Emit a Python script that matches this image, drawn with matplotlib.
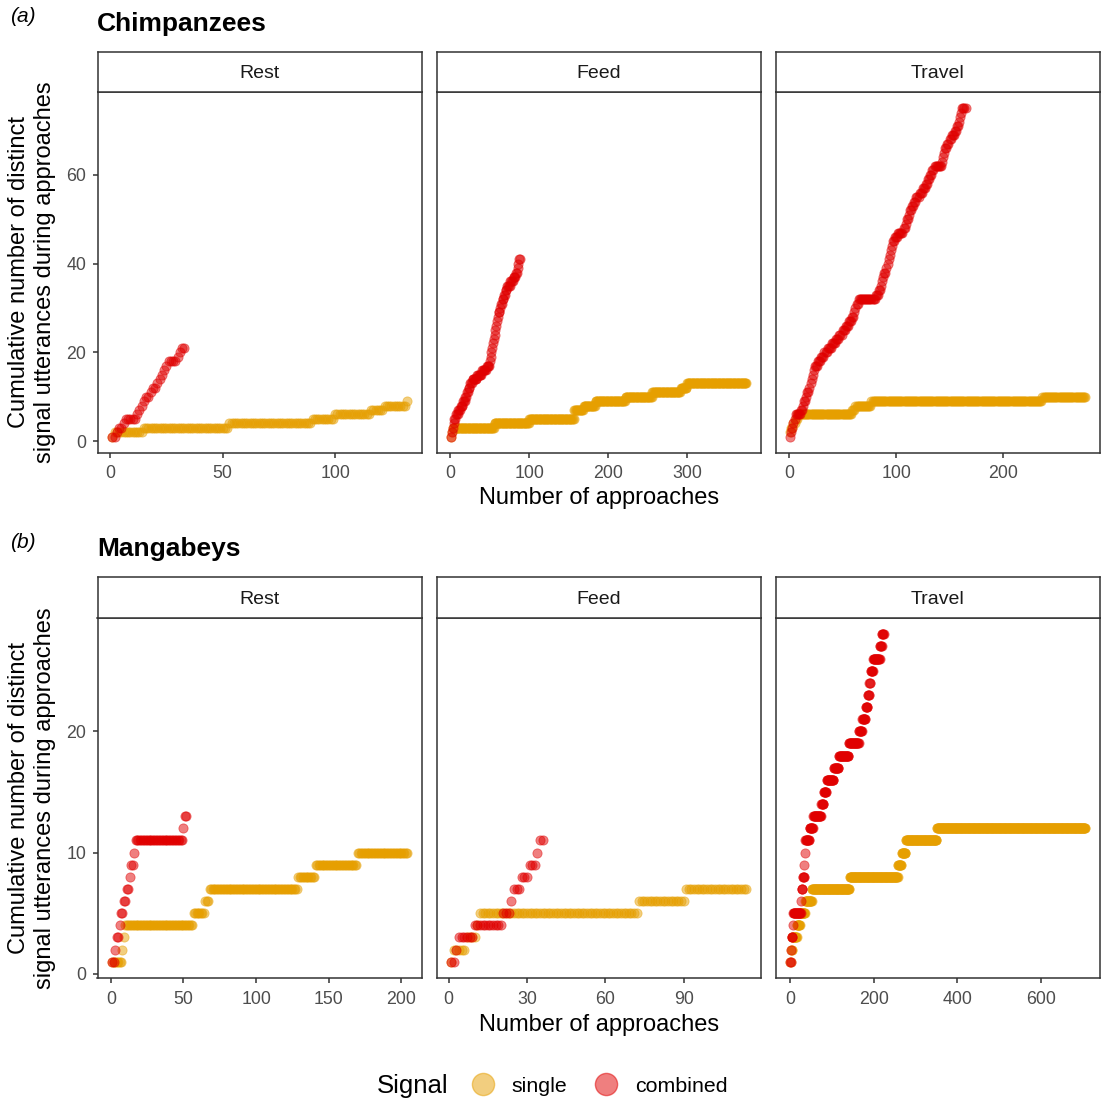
import numpy as np
import matplotlib.pyplot as plt
from matplotlib.lines import Line2D

plt.rcParams["font.family"] = ["Liberation Sans", "DejaVu Sans"]

# -----------------------------------------
# Data (cumulative step series, run-length coded:
# level reached, number of consecutive approaches at that level)
# -----------------------------------------

contexts = ["Rest", "Feed", "Travel"]
species = ["Chimpanzees", "Mangabeys"]
panel_tags = ["(a)", "(b)"]
signal_names = ["single", "combined"]

chimp_rest_single_levels = [1, 2, 3, 4, 5, 6, 7, 8, 9]
chimp_rest_single_runs = [1, 13, 38, 37, 10, 16, 6, 10, 1]
chimp_rest_combined_levels = list(range(1, 22))
chimp_rest_combined_runs = [2, 1, 2, 1, 5, 1, 1, 1, 1, 2, 1, 2, 1, 1, 1, 1, 1, 4, 1, 1, 2]

chimp_feed_single_levels = [1, 2, 3, 4, 5, 7, 8, 9, 10, 11, 12, 13]
chimp_feed_single_runs = [1, 1, 53, 44, 57, 12, 15, 38, 34, 36, 8, 76]
chimp_feed_combined_levels = list(range(1, 42))
chimp_feed_combined_runs = [1, 1, 1, 1, 2, 3, 3, 3, 3, 2, 2, 2, 3, 6, 6, 6, 4,
                            1, 1, 1, 1, 1, 1, 1, 1, 1, 1, 1, 2, 1, 2, 2, 2, 2,
                            4, 4, 3, 2, 1, 1, 2]

chimp_travel_single_levels = [2, 3, 4, 5, 6, 7, 8, 9, 10]
chimp_travel_single_runs = [1, 2, 2, 2, 51, 3, 15, 160, 41]
chimp_travel_combined_levels = list(range(1, 76))
chimp_travel_combined_runs = [1, 1, 1, 1, 1, 5, 2, 1, 2, 1, 2, 1, 1, 1, 1, 1,
                              3, 3, 3, 3, 4, 4, 3, 3, 3, 3, 3, 2, 1, 1, 2, 16,
                              3, 2, 1, 1, 1, 2, 1, 1, 1, 1, 1, 1, 2, 3, 5, 2,
                              1, 2, 1, 2, 2, 2, 3, 3, 3, 2, 2, 2, 2, 7, 1, 1,
                              1, 2, 2, 2, 3, 2, 2, 1, 1, 1, 4]

mang_rest_single_levels = [1, 2, 3, 4, 5, 6, 7, 8, 9, 10]
mang_rest_single_runs = [7, 1, 1, 47, 8, 3, 61, 12, 29, 35]
mang_rest_combined_levels = list(range(1, 14))
mang_rest_combined_runs = [2, 1, 2, 1, 2, 2, 2, 1, 2, 1, 33, 1, 2]

mang_feed_single_levels = [1, 2, 3, 4, 5, 6, 7]
mang_feed_single_runs = [1, 5, 4, 1, 61, 18, 24]
mang_feed_combined_levels = list(range(1, 12))
mang_feed_combined_runs = [2, 1, 6, 11, 3, 1, 3, 3, 3, 1, 2]

mang_travel_single_levels = [1, 2, 3, 4, 5, 6, 7, 8, 9, 10, 11, 12]
mang_travel_single_runs = [2, 3, 11, 8, 12, 16, 90, 115, 9, 10, 74, 355]
mang_travel_combined_levels = list(range(1, 29))
mang_travel_combined_runs = [2, 1, 3, 1, 19, 1, 3, 4, 1, 1, 10, 9, 19, 6, 7,
                             17, 12, 24, 24, 8, 8, 5, 4, 3, 6, 16, 5, 5]

chimp_xticks = [[0, 50, 100], [0, 100, 200, 300], [0, 100, 200]]
mang_xticks = [[0, 50, 100, 150, 200], [0, 30, 60, 90], [0, 200, 400, 600]]
chimp_yticks = [0, 20, 40, 60]
mang_yticks = [0, 10, 20]

series = {
    "Chimpanzees": [
        ((chimp_rest_single_levels, chimp_rest_single_runs),
         (chimp_rest_combined_levels, chimp_rest_combined_runs)),
        ((chimp_feed_single_levels, chimp_feed_single_runs),
         (chimp_feed_combined_levels, chimp_feed_combined_runs)),
        ((chimp_travel_single_levels, chimp_travel_single_runs),
         (chimp_travel_combined_levels, chimp_travel_combined_runs)),
    ],
    "Mangabeys": [
        ((mang_rest_single_levels, mang_rest_single_runs),
         (mang_rest_combined_levels, mang_rest_combined_runs)),
        ((mang_feed_single_levels, mang_feed_single_runs),
         (mang_feed_combined_levels, mang_feed_combined_runs)),
        ((mang_travel_single_levels, mang_travel_single_runs),
         (mang_travel_combined_levels, mang_travel_combined_runs)),
    ],
}
xticks = {"Chimpanzees": chimp_xticks, "Mangabeys": mang_xticks}
yticks = {"Chimpanzees": chimp_yticks, "Mangabeys": mang_yticks}

colors = {"single": "#E69F00", "combined": "#E00000"}

# -----------------------------------------
# Layout (pixels)
# -----------------------------------------

W, H = 1101, 1099
col_left = [97.5, 436.5, 775.5]
col_width = 324.5
rows = {
    "Chimpanzees": dict(strip_top=52, panel_top=92, panel_bottom=453,
                        tag_y=17, title_y=24, xlabel_y=498),
    "Mangabeys": dict(strip_top=577, panel_top=618, panel_bottom=978,
                      tag_y=543, title_y=549, xlabel_y=1025),
}

frame_color = "#333333"
tick_color = "#4D4D4D"


def expand(levels, runs):
    y = np.repeat(levels, runs)
    x = np.arange(1, len(y) + 1)
    return x, y


def expanded_lim(lo, hi):
    pad = (hi - lo) * 0.05
    return lo - pad, hi + pad


def fig_box(left, top, width, height):
    return [left / W, 1 - (top + height) / H, width / W, height / H]


fig = plt.figure(figsize=(W / 100, H / 100), dpi=100)

for tag, sp in zip(panel_tags, species):

    row = rows[sp]
    data = [[expand(*s) for s in panel] for panel in series[sp]]

    ymin = min(y.min() for panel in data for _, y in panel)
    ymax = max(y.max() for panel in data for _, y in panel)
    ylim = expanded_lim(ymin, ymax)

    for i, ctx in enumerate(contexts):

        ax = fig.add_axes(fig_box(col_left[i], row["panel_top"], col_width,
                                  row["panel_bottom"] - row["panel_top"]))

        for name, (x, y) in zip(signal_names, data[i]):
            ax.scatter(x, y, s=44, color=colors[name], alpha=0.5,
                       linewidths=0.6, edgecolors=colors[name], zorder=3)

        xmin = min(x.min() for x, _ in data[i])
        xmax = max(x.max() for x, _ in data[i])
        ax.set_xlim(*expanded_lim(xmin, xmax))
        ax.set_ylim(*ylim)
        ax.set_xticks(xticks[sp][i])
        ax.set_yticks(yticks[sp])

        ax.tick_params(direction="out", length=3.5, width=1.1,
                       color=frame_color, labelsize=12.8,
                       labelcolor=tick_color)
        ax.tick_params(axis="x", pad=5.5)
        ax.tick_params(axis="y", pad=4.5)
        if i > 0:
            ax.set_yticklabels([])
            ax.tick_params(axis="y", length=0)

        for spine in ax.spines.values():
            spine.set_color(frame_color)
            spine.set_linewidth(1.1)

        # facet strip
        sax = fig.add_axes(fig_box(col_left[i], row["strip_top"], col_width,
                                   row["panel_top"] - row["strip_top"]))
        sax.set_xticks([])
        sax.set_yticks([])
        for spine in sax.spines.values():
            spine.set_color(frame_color)
            spine.set_linewidth(1.1)
        sax.text(0.5, 0.46, ctx, ha="center", va="center", fontsize=14,
                 color="#1A1A1A", transform=sax.transAxes)

    fig.text(10 / W, 1 - row["tag_y"] / H, tag, fontsize=15,
             style="italic", ha="left", va="center")
    fig.text(97 / W, 1 - row["title_y"] / H, sp, fontsize=19,
             fontweight="bold", ha="left", va="center")

    mid = (row["panel_top"] + row["panel_bottom"]) / 2
    fig.text(32 / W, 1 - mid / H,
             "Cumulative number of distinct\nsignal utterances during approaches",
             rotation=90, ha="center", va="center", fontsize=17)
    fig.text(599 / W, 1 - row["xlabel_y"] / H, "Number of approaches",
             ha="center", va="center", fontsize=17)

# -----------------------------------------
# Legend
# -----------------------------------------

handles = [
    Line2D([], [], marker="o", linestyle="", markersize=16,
           markerfacecolor=colors[name], markeredgecolor=colors[name],
           markeredgewidth=1.0, alpha=0.5)
    for name in signal_names
]

fig.text(377 / W, 1 - 1086 / H, "Signal", fontsize=18.5,
         ha="left", va="center")

fig.legend(handles, signal_names, ncol=2, frameon=False,
           loc="center left", bbox_to_anchor=(470 / W, 1 - 1086 / H),
           fontsize=15.4, handletextpad=0.75, columnspacing=1.2,
           handlelength=1.2, borderaxespad=0, borderpad=0)

fig.savefig("out.png", dpi=100)
